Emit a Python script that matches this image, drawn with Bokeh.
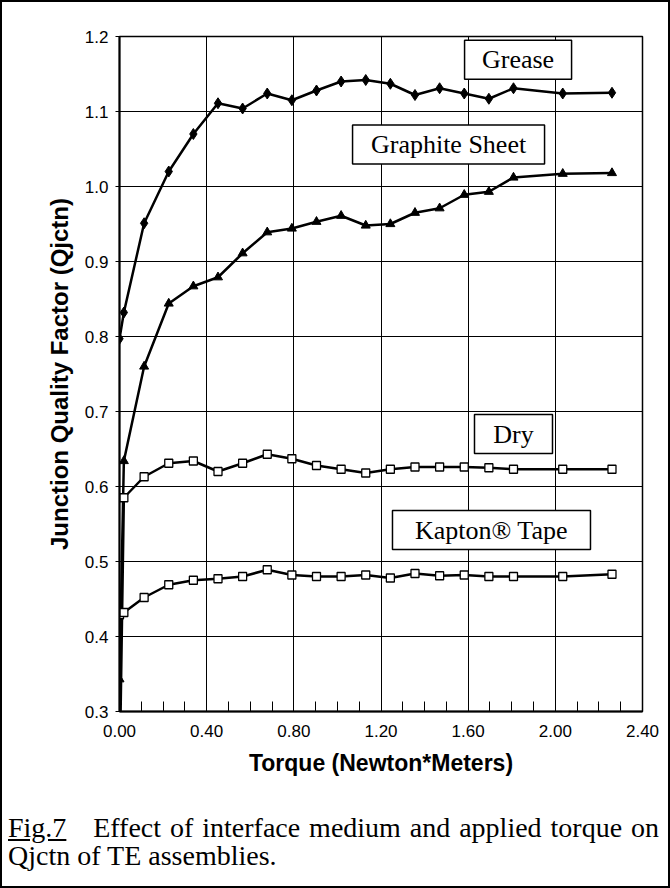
from bokeh.plotting import figure
from bokeh.models import Range1d, FixedTicker, PrintfTickFormatter, Div, ColumnDataSource
from bokeh.layouts import column
from bokeh.core.properties import value
from bokeh.embed import file_html
from bokeh.resources import INLINE

# ---------------- data ----------------
torque = [0.0, 0.02, 0.113, 0.226, 0.339, 0.452, 0.565, 0.678, 0.791, 0.904,
          1.017, 1.130, 1.243, 1.356, 1.469, 1.582, 1.695, 1.808, 2.034, 2.260]
grease = [0.797, 0.832, 0.951, 1.020, 1.070, 1.111, 1.104, 1.124, 1.115, 1.128,
          1.140, 1.142, 1.137, 1.122, 1.131, 1.124, 1.117, 1.131, 1.124, 1.125]
graphite = [0.343, 0.634, 0.760, 0.844, 0.867, 0.879, 0.911, 0.939, 0.944, 0.953,
            0.961, 0.948, 0.950, 0.965, 0.971, 0.989, 0.993, 1.012, 1.017, 1.018]
dry = [0.200, 0.585, 0.613, 0.631, 0.634, 0.620, 0.631, 0.643, 0.637, 0.628,
       0.623, 0.618, 0.623, 0.626, 0.626, 0.626, 0.625, 0.623, 0.623, 0.623]
kapton = [0.429, 0.432, 0.452, 0.469, 0.475, 0.477, 0.480, 0.489, 0.482, 0.480,
          0.480, 0.482, 0.478, 0.484, 0.481, 0.482, 0.480, 0.480, 0.480, 0.483]

series_names = ["Grease", "Graphite Sheet", "Dry", "Kapton\u00ae Tape"]

x_ticks = [0.0, 0.4, 0.8, 1.2, 1.6, 2.0, 2.4]
x_minor = [0.1, 0.2, 0.3, 0.5, 0.6, 0.7, 0.9, 1.0, 1.1, 1.3, 1.4, 1.5,
           1.7, 1.8, 1.9, 2.1, 2.2, 2.3]
y_ticks = [0.3, 0.4, 0.5, 0.6, 0.7, 0.8, 0.9, 1.0, 1.1, 1.2]

x_title = "Torque (Newton*Meters)"
y_title = "Junction Quality Factor (Qjctn)"
caption_fig = "Fig.7"
caption_line1 = "Effect of interface medium and applied torque on"
caption_line2 = "Qjctn of TE assemblies."

# ---------------- layout / style ----------------
label_x = [1.829, 1.510, 1.808, 1.707]
label_y = [1.169, 1.056, 0.670, 0.542]
label_w = [107, 192, 78, 198]
label_h = [39, 39, 39, 39]

SANS = "Liberation Sans"
SERIF = "Liberation Serif"

p = figure(width=666, height=796,
           x_range=Range1d(0, 2.4), y_range=Range1d(0.3, 1.2),
           output_backend="svg", toolbar_location=None,
           min_border_left=117, min_border_right=26,
           min_border_top=34, min_border_bottom=87)
p.background_fill_color = "white"
p.border_fill_color = "white"
p.outline_line_color = "black"
p.outline_line_width = 1.5

for g in (p.xgrid, p.ygrid):
    g.grid_line_color = "black"
    g.grid_line_width = 1
    g.grid_line_alpha = 1.0

p.xaxis.ticker = FixedTicker(ticks=x_ticks, minor_ticks=x_minor)
p.xaxis.formatter = PrintfTickFormatter(format="%.2f")
p.xaxis.major_tick_in = 10
p.xaxis.major_tick_out = 0
p.xaxis.minor_tick_in = 10
p.xaxis.minor_tick_out = 0
p.xaxis.major_label_standoff = 13
p.xaxis.axis_label = x_title
p.xaxis.axis_label_standoff = 10

p.yaxis.ticker = FixedTicker(ticks=y_ticks)
p.yaxis.formatter = PrintfTickFormatter(format="%.1f")
p.yaxis.major_tick_in = 0
p.yaxis.major_tick_out = 4
p.yaxis.minor_tick_in = 0
p.yaxis.minor_tick_out = 0
p.yaxis.major_label_standoff = 7
p.yaxis.axis_label = y_title
p.yaxis.axis_label_standoff = 9

for ax in (p.xaxis, p.yaxis):
    ax.axis_line_color = "black"
    ax.axis_line_width = 2
    ax.major_tick_line_color = "black"
    ax.minor_tick_line_color = "black"
    ax.major_label_text_font = SANS
    ax.major_label_text_font_size = "17px"
    ax.major_label_text_color = "black"
    ax.axis_label_text_font = SANS
    ax.axis_label_text_font_style = "bold"
    ax.axis_label_text_color = "black"
p.xaxis.axis_label_text_font_size = "23px"
p.yaxis.axis_label_text_font_size = "24px"

# series
p.line(torque, grease, line_width=2.5, line_color="black")
p.scatter(torque, grease, marker="diamond", size=11, color="black")

p.line(torque, graphite, line_width=2.5, line_color="black")
p.scatter(torque, graphite, marker="triangle", size=9, color="black")

p.line(torque, dry, line_width=2.5, line_color="black")
p.scatter(torque, dry, marker="square", size=8, fill_color="white",
          line_color="black", line_width=1.3)

p.line(torque, kapton, line_width=2.5, line_color="black")
p.scatter(torque, kapton, marker="square", size=8, fill_color="white",
          line_color="black", line_width=1.3)

# series name boxes
lab = ColumnDataSource(dict(x=label_x, y=label_y, w=label_w, h=label_h, t=series_names))
p.rect(x="x", y="y", width="w", height="h", width_units="screen",
       height_units="screen", source=lab, fill_color="white",
       line_color="black", line_width=1.5)
p.text(x="x", y="y", text="t", source=lab, text_align="center",
       text_baseline="middle", text_font=value(SERIF), text_font_size="26px",
       text_color="black")

caption_html = (
    '<div style="font-family:\'Liberation Serif\',serif;font-size:28px;'
    'line-height:28px;color:black;width:657px;padding:16px 0 0 6px;margin:0;'
    'white-space:nowrap;">'
    '<div style="text-align:justify;text-align-last:justify;">'
    '<u>' + caption_fig + '</u>&nbsp;&nbsp; ' + caption_line1 + '</div>'
    '<div style="text-align:left;">' + caption_line2 + '</div></div>'
)
cap = Div(text=caption_html, width=666, height=88,
          styles={"margin": "0", "padding": "0", "background": "white"})

layout = column(p, cap, spacing=0,
                styles={"border": "2px solid black", "background": "white"})

open("out.html", "w").write(file_html(layout, INLINE))
